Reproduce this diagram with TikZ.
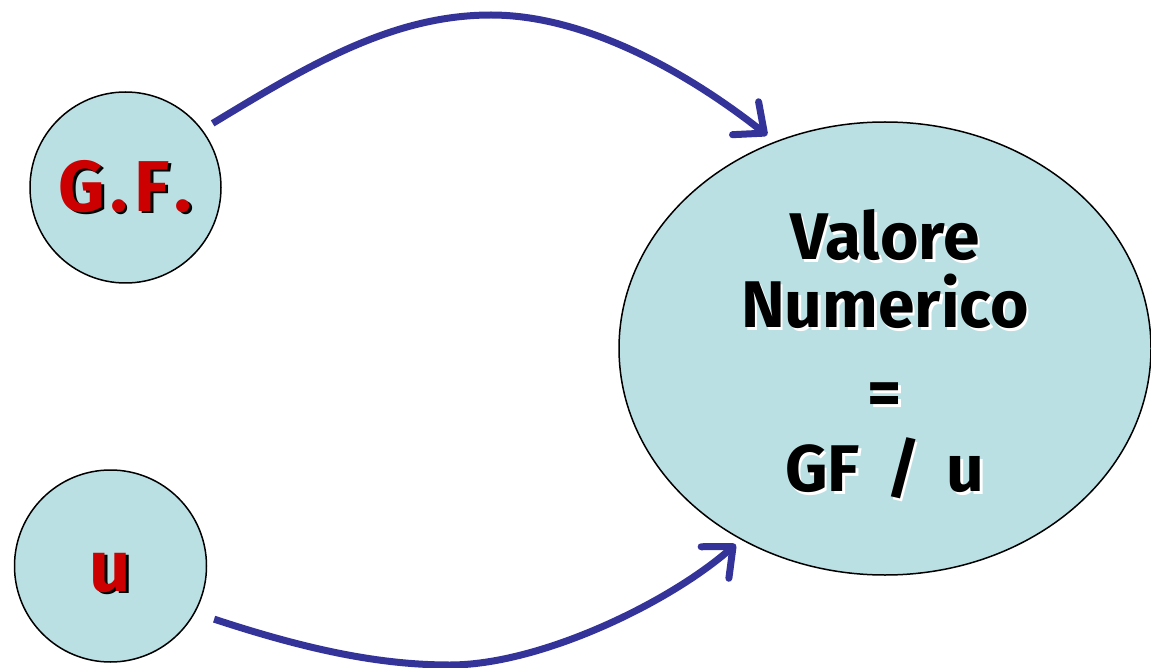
\documentclass[tikz,border=0pt]{standalone}
\usepackage{fontspec}
\setmainfont{Fira Sans}
\usepackage{xcolor}
\usepackage{tikz}
\usetikzlibrary{arrows.meta,shapes.geometric}
\definecolor{bubblefill}{RGB}{186,224,228}
\definecolor{arrowblue}{RGB}{51,51,153}
\definecolor{labelred}{RGB}{204,0,0}
\newcommand{\shadowed}[2]{\makebox[0pt][l]{\kern2.5pt\raisebox{-2.5pt}{\color{#1}#2}}#2}

\begin{document}
\begin{tikzpicture}[x=1pt,y=-1pt,line join=round,
  bubble/.style={draw=black,line width=1.5pt,fill=bubblefill,inner sep=0pt},
  link/.style={arrowblue,line width=7pt,-{Straight Barb[length=24pt,width=42pt,round]}}]
  \useasboundingbox (0,0) rectangle (1151,668);
  \node[bubble,circle,minimum size=191pt,text=labelred,
        font=\fontsize{72}{80}\selectfont\bfseries] (gf) at (125.5,187.5)
        {\shadowed{black}{G\kern5pt.\kern7pt F\kern5pt.}};
  \node[bubble,circle,minimum size=192pt,text=labelred,
        font=\fontsize{72}{80}\selectfont\bfseries] (u) at (110.5,566) {\rule{0pt}{54pt}\shadowed{black}{u}};
  \node[bubble,ellipse,minimum width=532pt,minimum height=453pt,align=center,
        font=\fontsize{66}{68}\selectfont\bfseries] (val) at (885,348.5)
        {\rule{0pt}{64pt}\shadowed{white}{Valore}\\ \shadowed{white}{Numerico}\\[20pt]
         \shadowed{white}{=}\\[8pt] \shadowed{white}{GF\hspace{0.4em}/\hspace{0.4em}u}};
  \draw[link,shorten <=12pt,shorten >=10pt] (gf.37) .. controls (306,67) and (391,15) .. (491,15)
    .. controls (591,15) and (696,79) .. (val.118.5);
  \draw[link,shorten <=20pt,shorten >=7pt] (u.-29) .. controls (308,650) and (380,665) .. (450,665)
    .. controls (540,665) and (669,603) .. (val.233);
\end{tikzpicture}
\end{document}
